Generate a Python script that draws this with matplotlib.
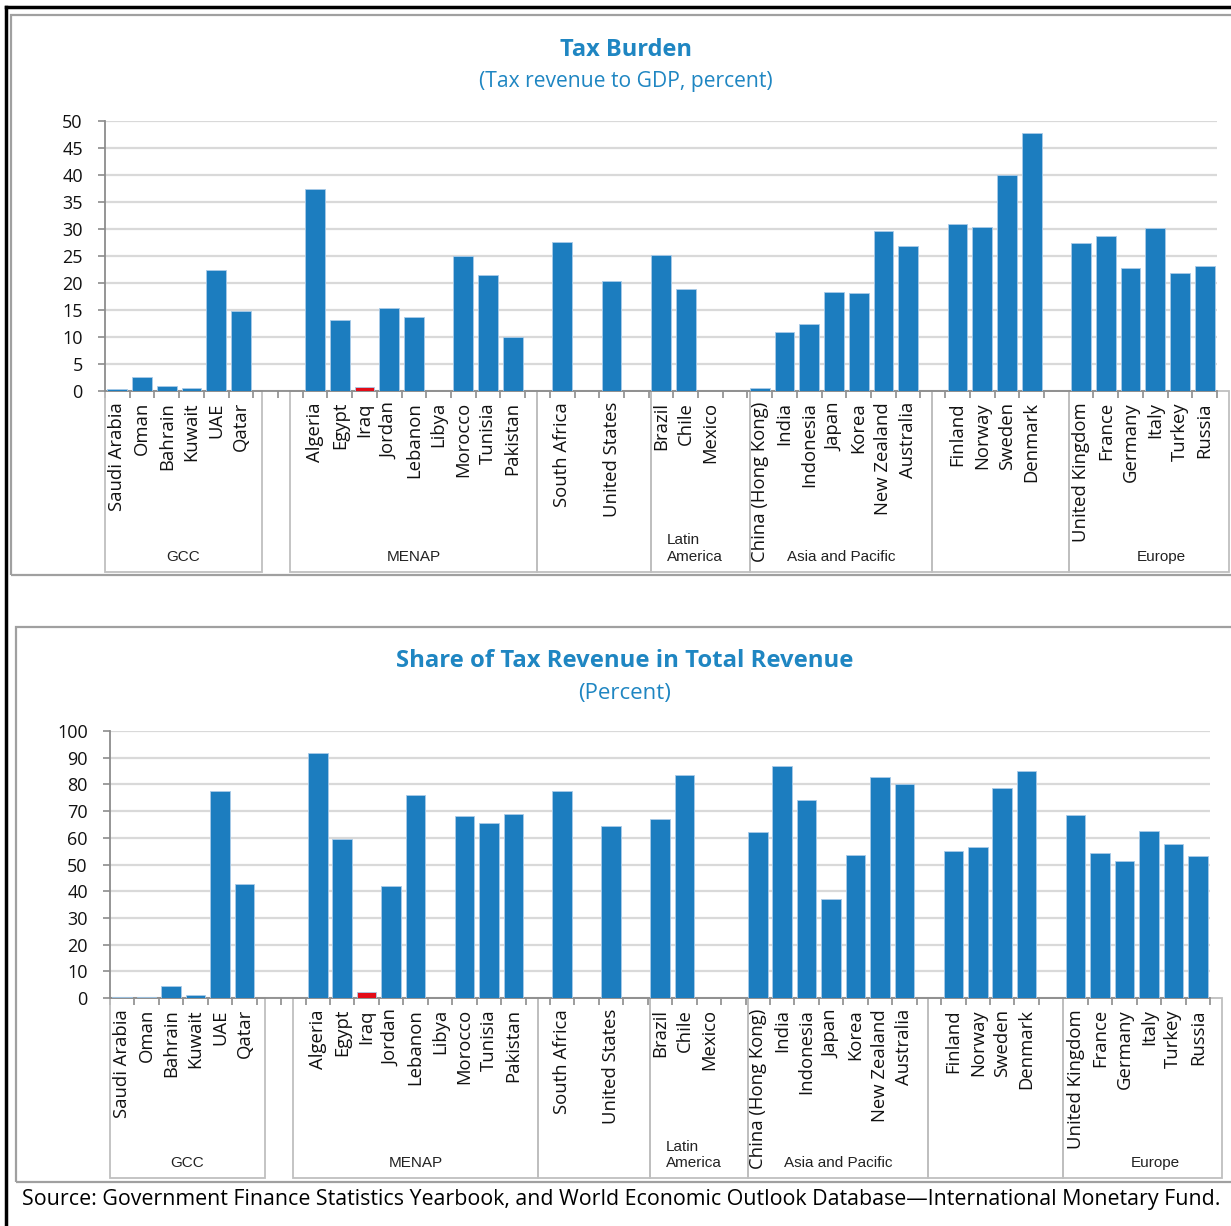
import matplotlib.pyplot as plt
from matplotlib.patches import Rectangle
from matplotlib.lines import Line2D
import numpy as np

# Countries in chart order; '' marks an empty slot between groups
countries = ['Saudi Arabia', 'Oman', 'Bahrain', 'Kuwait', 'UAE', 'Qatar', '', '',
             'Algeria', 'Egypt', 'Iraq', 'Jordan', 'Lebanon', 'Libya', 'Morocco', 'Tunisia', 'Pakistan', '',
             'South Africa', '', 'United States', '',
             'Brazil', 'Chile', 'Mexico', '',
             'China (Hong Kong)', 'India', 'Indonesia', 'Japan', 'Korea', 'New Zealand', 'Australia', '',
             'Finland', 'Norway', 'Sweden', 'Denmark', '',
             'United Kingdom', 'France', 'Germany', 'Italy', 'Turkey', 'Russia']

# Tax revenue to GDP, percent
tax_gdp = [0.3, 2.5, 0.9, 0.6, 22.4, 14.7, 0, 0,
           37.4, 13.1, 0.8, 15.4, 13.7, 0.0, 24.9, 21.5, 9.9, 0,
           27.5, 0, 20.4, 0,
           25.1, 18.8, 0.0, 0,
           0.5, 10.9, 12.4, 18.3, 18.1, 29.6, 26.8, 0,
           30.9, 30.4, 39.9, 47.6, 0,
           27.4, 28.7, 22.8, 30.2, 21.8, 23.1]

# Share of tax revenue in total revenue, percent
tax_share = [0.5, 0.5, 4.4, 1.2, 77.6, 42.6, 0, 0,
             91.9, 59.4, 2.4, 41.8, 75.9, 0.0, 68.0, 65.7, 69.1, 0,
             77.6, 0, 64.6, 0,
             67.0, 83.5, 0.0, 0,
             62.3, 87.0, 74.1, 36.9, 53.6, 82.8, 80.2, 0,
             55.0, 56.4, 78.6, 85.2, 0,
             68.7, 54.4, 51.2, 62.7, 57.7, 53.2]

highlight = 'Iraq'
group_names = ['GCC', 'MENAP', '', 'Latin\nAmerica', 'Asia and Pacific', '', 'Europe']
group_spans = [(0, 6.35), (7.5, 17.5), (17.5, 22.1), (22.1, 26.1), (26.1, 33.45), (33.45, 39.0), (39.0, 45.5)]

W, H = 1231, 1226
BLUE = '#1C7DBF'
TITLE_BLUE = '#1F86C2'
TICK_FONT = 'Open Sans'
GROUP_FONT = ['Liberation Sans Narrow', 'Liberation Sans', 'DejaVu Sans']

fig = plt.figure(figsize=(W / 100, H / 100), dpi=100)


def px_rect(x0, y0, x1, y1):
    return [x0 / W, 1 - y1 / H, (x1 - x0) / W, (y1 - y0) / H]


def draw_panel(ax, values, ymax, step, box_bottom, label_y):
    vals = np.array(values, dtype=float)
    x = np.arange(len(countries)) + 0.5
    mask = np.array([c != '' for c in countries])
    colors = np.array(['#E30B17' if c == highlight else BLUE for c in countries])
    ax.bar(x[mask], vals[mask], width=0.8, color=colors[mask],
           edgecolor='#A9CBE8', linewidth=0.6, zorder=3)
    ax.set_xlim(0, len(countries))
    ax.set_ylim(0, ymax)
    ax.set_yticks(np.arange(0, ymax + 1, step))
    ax.yaxis.grid(True, color='#D9D9D9', linewidth=1.6)
    ax.set_axisbelow(True)
    for s in ['top', 'right']:
        ax.spines[s].set_visible(False)
    for s in ['left', 'bottom']:
        ax.spines[s].set_color('#8C8C8C')
        ax.spines[s].set_linewidth(1.3)
    ax.set_xticks(np.arange(0, len(countries) + 1))
    ax.set_xticklabels([])
    ax.set_xticks(x, minor=True)
    ax.set_xticklabels(countries, minor=True, rotation=90, va='top',
                       fontsize=13.3, family=TICK_FONT, color='#111111')
    ax.tick_params(axis='x', which='major', length=5, width=1.2, color='#8C8C8C', direction='out')
    ax.tick_params(axis='x', which='minor', length=0, pad=8)
    ax.tick_params(axis='y', length=5, width=1.2, color='#8C8C8C', pad=11, labelsize=13)
    for lab in ax.get_yticklabels():
        lab.set_family(TICK_FONT)
        lab.set_color('#111111')
    tr = ax.get_xaxis_transform()
    for name, (a, b) in zip(group_names, group_spans):
        ax.add_patch(Rectangle((a, box_bottom), b - a, -box_bottom, transform=tr,
                               fill=False, ec='#BFBFBF', lw=1.3, clip_on=False))
        if name == 'Latin\nAmerica':
            ax.text(a + 0.65, label_y + 0.03, name, transform=tr, ha='left', va='center',
                    fontsize=11, family=GROUP_FONT, color='#222222', linespacing=1.25)
        elif name:
            cx = (a + b) / 2 + (0.5 if name == 'Europe' else 0)
            ax.text(cx, label_y, name, transform=tr, ha='center', va='center',
                    fontsize=11, family=GROUP_FONT, color='#222222')


# outer page lines
fig.add_artist(Line2D([6 / W, 6 / W], [0, 1 - 7 / H], transform=fig.transFigure, color='black', lw=2.5))
fig.add_artist(Line2D([6 / W, 1], [1 - 7 / H, 1 - 7 / H], transform=fig.transFigure, color='black', lw=2.5))

# panel frames
for (x0, y0, y1) in [(11, 15, 575), (16, 627, 1182)]:
    l, b, w, h = px_rect(x0, y0, W + 10, y1)
    fig.add_artist(Rectangle((l, b), w, h, transform=fig.transFigure, fill=False,
                             ec='#A0A0A0', lw=1.6))

# top panel
ax1 = fig.add_axes(px_rect(105, 120.5, 1217, 391))
draw_panel(ax1, tax_gdp, 50, 5, -0.669, -0.612)
fig.text(626 / W, 1 - 50 / H, 'Tax Burden', ha='center', va='center', fontsize=17,
         fontweight='bold', color=TITLE_BLUE, family=TICK_FONT)
fig.text(626 / W, 1 - 82 / H, '(Tax revenue to GDP, percent)', ha='center', va='center',
         fontsize=15.2, color=TITLE_BLUE, family=TICK_FONT)

# bottom panel
ax2 = fig.add_axes(px_rect(110, 731, 1210, 998))
draw_panel(ax2, tax_share, 100, 10, -0.674, -0.618)
fig.text(625 / W, 1 - 661 / H, 'Share of Tax Revenue in Total Revenue', ha='center', va='center',
         fontsize=17.2, fontweight='bold', color=TITLE_BLUE, family=TICK_FONT)
fig.text(625 / W, 1 - 694 / H, '(Percent)', ha='center', va='center',
         fontsize=16, color=TITLE_BLUE, family=TICK_FONT)

fig.text(22 / W, 1 - 1200 / H,
         'Source: Government Finance Statistics Yearbook, and World Economic Outlook Database\u2014International Monetary Fund.',
         ha='left', va='center', fontsize=15.4, color='black', family=TICK_FONT)

fig.savefig('out.png', dpi=100)
